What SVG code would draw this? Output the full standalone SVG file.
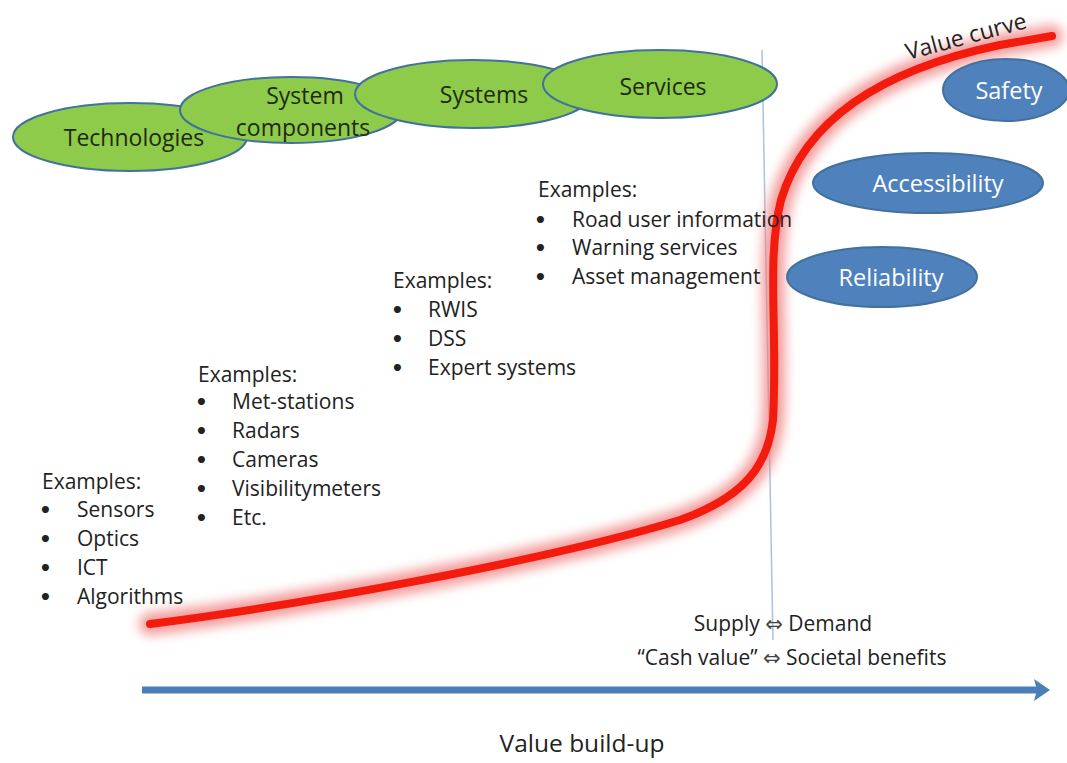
<svg xmlns="http://www.w3.org/2000/svg" width="1067" height="763" viewBox="0 0 1067 763">
<style>
.t{font-family:"Open Sans","Liberation Sans",sans-serif;font-size:21px;fill:#222}
.big{font-size:24.5px}
.vc{font-size:23px}
.bu{font-family:"DejaVu Sans","Liberation Sans",sans-serif;font-size:20px;font-weight:bold;fill:#222}
.n{font-family:"Open Sans","Liberation Sans",sans-serif;font-size:23px;fill:#1e2a10;text-anchor:middle}
.w{font-family:"Open Sans","Liberation Sans",sans-serif;font-size:23.5px;fill:#fff;text-anchor:middle}
.g{fill:#8fcb4a;stroke:#41719c;stroke-width:2}
.b{fill:#4f81bd;stroke:#41719c;stroke-width:2}
.ar{font-family:"DejaVu Sans",sans-serif;font-size:21px;fill:#444}
</style>
<defs>
<filter id="blur" x="-10%" y="-10%" width="120%" height="120%"><feGaussianBlur stdDeviation="6"/></filter>
</defs>
<rect width="1067" height="763" fill="#fff"/>
<g id="divider"><line x1="762" y1="50" x2="773" y2="640" stroke="#a9c4e0" stroke-width="1.5"/></g>
<g id="tech"><ellipse class="g" cx="130" cy="137" rx="117" ry="34"/><text class="n" x="134" y="146">Technologies</text></g>
<g id="syscomp"><ellipse class="g" cx="291" cy="110" rx="111" ry="33"/><text class="n" x="305" y="104">System</text><text class="n" x="303" y="136">components</text></g>
<g id="systems"><ellipse class="g" cx="473" cy="94" rx="118" ry="34"/><text class="n" x="484" y="103">Systems</text></g>
<g id="services"><ellipse class="g" cx="660" cy="84" rx="117" ry="34"/><text class="n" x="663" y="95">Services</text></g>
<g id="curve">
<path d="M150,624 C300,605 550,560 680,520 C745,497 768,465 773,420 C778,330 766,260 781,200 C805,120 880,70 1000,45 L1052,36" fill="none" stroke="#f08080" stroke-width="22" stroke-linecap="round" filter="url(#blur)" opacity="0.8"/>
<path d="M150,624 C300,605 550,560 680,520 C745,497 768,465 773,420 C778,330 766,260 781,200 C805,120 880,70 1000,45 L1052,36" fill="none" stroke="#f21b0e" stroke-width="8" stroke-linecap="round"/>
<text class="t vc" x="908" y="60" transform="rotate(-15 908 60)">Value curve</text>
</g>
<g id="safety"><ellipse class="b" cx="1006" cy="90" rx="63" ry="31"/><text class="w" x="1009" y="99">Safety</text></g>
<g id="access"><ellipse class="b" cx="928" cy="183" rx="115" ry="30"/><text class="w" x="938" y="192">Accessibility</text></g>
<g id="reliab"><ellipse class="b" cx="882" cy="277" rx="95" ry="30"/><text class="w" x="891" y="286">Reliability</text></g>
<g id="ex1">
<text class="t" x="42" y="489">Examples:</text>
<text class="bu" x="39" y="517">•</text><text class="t" x="77" y="517">Sensors</text>
<text class="bu" x="39" y="546">•</text><text class="t" x="77" y="546">Optics</text>
<text class="bu" x="39" y="575">•</text><text class="t" x="77" y="575">ICT</text>
<text class="bu" x="39" y="604">•</text><text class="t" x="77" y="604">Algorithms</text>
</g>
<g id="ex2">
<text class="t" x="198" y="382">Examples:</text>
<text class="bu" x="195" y="409">•</text><text class="t" x="232" y="409">Met-stations</text>
<text class="bu" x="195" y="438">•</text><text class="t" x="232" y="438">Radars</text>
<text class="bu" x="195" y="467">•</text><text class="t" x="232" y="467">Cameras</text>
<text class="bu" x="195" y="496">•</text><text class="t" x="232" y="496">Visibilitymeters</text>
<text class="bu" x="195" y="525">•</text><text class="t" x="232" y="525">Etc.</text>
</g>
<g id="ex3">
<text class="t" x="393" y="288">Examples:</text>
<text class="bu" x="391" y="317">•</text><text class="t" x="428" y="317">RWIS</text>
<text class="bu" x="391" y="346">•</text><text class="t" x="428" y="346">DSS</text>
<text class="bu" x="391" y="375">•</text><text class="t" x="428" y="375">Expert systems</text>
</g>
<g id="ex4">
<text class="t" x="538" y="197">Examples:</text>
<text class="bu" x="534" y="227">•</text><text class="t" x="572" y="227">Road user information</text>
<text class="bu" x="534" y="255">•</text><text class="t" x="572" y="255">Warning services</text>
<text class="bu" x="534" y="284">•</text><text class="t" x="572" y="284">Asset management</text>
</g>
<g id="axis">
<line x1="142" y1="690" x2="1038" y2="690" stroke="#4a7ebb" stroke-width="7"/>
<polygon points="1034,679 1050,690 1034,701 1037,690" fill="#4a7ebb"/>
<text class="t" x="783" y="631" text-anchor="middle">Supply <tspan class="ar">⇔</tspan> Demand</text>
<text class="t" x="792" y="665" text-anchor="middle">“Cash value” <tspan class="ar">⇔</tspan> Societal benefits</text>
<text class="t big" x="582" y="752" text-anchor="middle">Value build-up</text>
</g>
</svg>
